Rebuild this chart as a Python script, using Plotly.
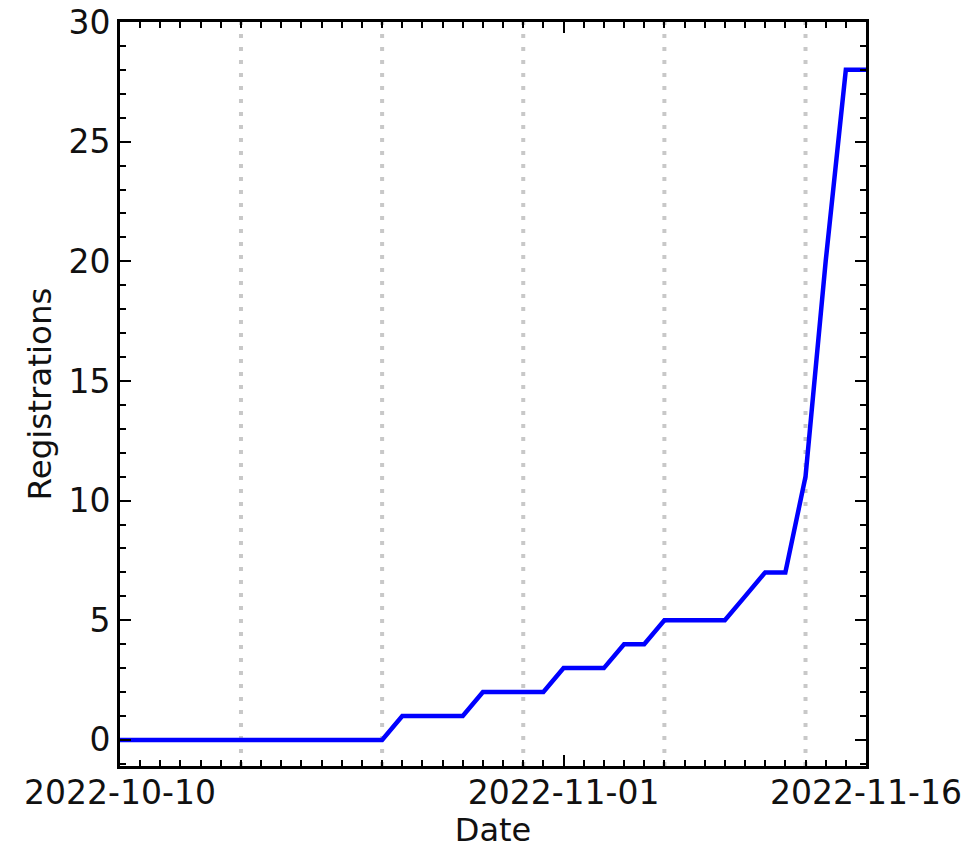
import plotly.graph_objects as go

dates = [
    "2022-10-10", "2022-10-11", "2022-10-12", "2022-10-13", "2022-10-14", "2022-10-15",
    "2022-10-16", "2022-10-17", "2022-10-18", "2022-10-19", "2022-10-20", "2022-10-21",
    "2022-10-22", "2022-10-23", "2022-10-24", "2022-10-25", "2022-10-26", "2022-10-27",
    "2022-10-28", "2022-10-29", "2022-10-30", "2022-10-31", "2022-11-01", "2022-11-02",
    "2022-11-03", "2022-11-04", "2022-11-05", "2022-11-06", "2022-11-07", "2022-11-08",
    "2022-11-09", "2022-11-10", "2022-11-11", "2022-11-12", "2022-11-13", "2022-11-14",
    "2022-11-15", "2022-11-16",
]
registrations = [
    0, 0, 0, 0, 0, 0,
    0, 0, 0, 0, 0, 0,
    0, 0, 1, 1, 1, 1,
    2, 2, 2, 2, 3, 3,
    3, 4, 4, 5, 5, 5,
    5, 6, 7, 7, 11, 20,
    28, 28,
]
week_lines = ["2022-10-16", "2022-10-23", "2022-10-30", "2022-11-06", "2022-11-13"]
x_tick_vals = ["2022-10-10", "2022-11-01", "2022-11-16"]
x_tick_text = ["2022-10-10", "2022-11-01", "2022-11-16"]
y_tick_vals = [0, 5, 10, 15, 20, 25, 30]

FONT = "DejaVu Sans"
Y_MIN, Y_MAX = -1.09, 30

fig = go.Figure()

# weekly dotted vertical lines
for d in week_lines:
    fig.add_trace(go.Scatter(
        x=[d, d], y=[Y_MIN, Y_MAX], mode="lines",
        line=dict(color="#c8c8c8", width=4, dash="4px,9px"),
        hoverinfo="skip", showlegend=False,
    ))

fig.add_trace(go.Scatter(
    x=dates, y=registrations, mode="lines",
    line=dict(color="#0000ff", width=4.5),
    showlegend=False,
))

fig.update_layout(
    width=979, height=849,
    margin=dict(l=120, r=113, t=22, b=83),
    plot_bgcolor="white", paper_bgcolor="white",
    font=dict(family=FONT, size=33, color="#111111"),
)

fig.update_xaxes(
    type="date", automargin=False,
    range=["2022-10-10", "2022-11-16"],
    tickmode="array", tickvals=x_tick_vals, ticktext=x_tick_text,
    ticks="inside", ticklen=11, tickwidth=2, tickcolor="black",
    showline=True, linewidth=3, linecolor="black", mirror="allticks",
    showgrid=False, zeroline=False,
    ticklabelstandoff=-5,
    minor=dict(ticks="inside", ticklen=6, tickwidth=2, tickcolor="black",
               dtick=86400000, tick0="2022-10-10", showgrid=False),
    title=dict(text="Date", font=dict(size=32), standoff=16),
    tickfont=dict(size=33),
)
fig.update_yaxes(
    range=[Y_MIN, Y_MAX], automargin=False,
    tickmode="array", tickvals=y_tick_vals,
    ticks="inside", ticklen=11, tickwidth=2, tickcolor="black",
    showline=True, linewidth=3, linecolor="black", mirror="allticks",
    showgrid=False, zeroline=False,
    minor=dict(ticks="inside", ticklen=6, tickwidth=2, tickcolor="black",
               dtick=1, tick0=0, showgrid=False),
    title=dict(text="Registrations", font=dict(size=32.5), standoff=8),
    tickfont=dict(size=33),
)

fig.write_html("out.html")
